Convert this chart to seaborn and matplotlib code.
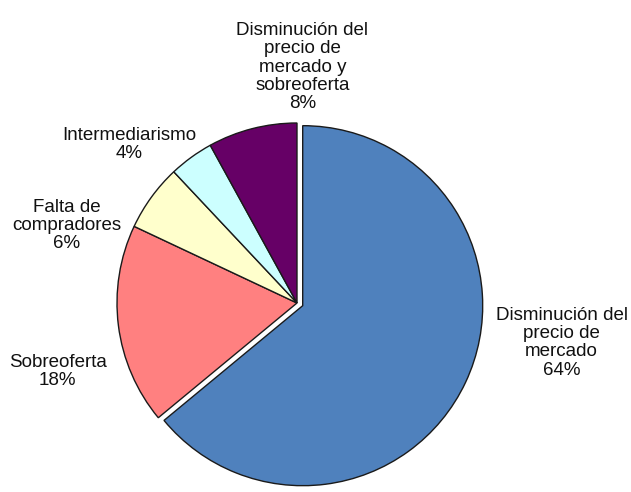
import matplotlib
matplotlib.use("Agg")
import matplotlib.pyplot as plt
import seaborn as sns

# datos del grafico
categorias = ["Disminución del\nprecio de\nmercado", "Sobreoferta", "Falta de\ncompradores",
              "Intermediarismo", "Disminución del\nprecio de\nmercado y\nsobreoferta"]
porcentajes = [64, 18, 6, 4, 8]
colores = ["#4F81BD", "#FF8080", "#FFFFCC", "#CCFFFF", "#660066"]

# donde va cada etiqueta (unidades del radio del pastel)
pos_etiquetas = [(1.47, -0.22), (-1.33, -0.38), (-1.28, 0.43), (-0.93, 0.88), (0.03, 1.31)]

sns.set_style("white")
plt.rcParams['font.family'] = ['Liberation Sans', 'DejaVu Sans']

fig = plt.figure(figsize=(6.31, 4.92), dpi=100)
ax = fig.add_axes([117 / 631, 9 / 492, 360 / 631, 360 / 492])

explode = [0.035, 0, 0, 0, 0]
wedges, _ = ax.pie(porcentajes, colors=colores, startangle=90, counterclock=False,
                   explode=explode, radius=1,
                   wedgeprops=dict(edgecolor="#1a1a1a", linewidth=1.0))
for w in wedges:
    w.set_clip_on(False)

for cat, val, (x, y) in zip(categorias, porcentajes, pos_etiquetas):
    ax.text(x, y, f"{cat}\n{val}%", ha="center", va="center", fontsize=13.5,
            linespacing=1.1, color="#111111")

ax.set_xlim(-1, 1)
ax.set_ylim(-1, 1)
ax.set_aspect("equal")
ax.axis("off")

fig.savefig("out.png", dpi=100)
